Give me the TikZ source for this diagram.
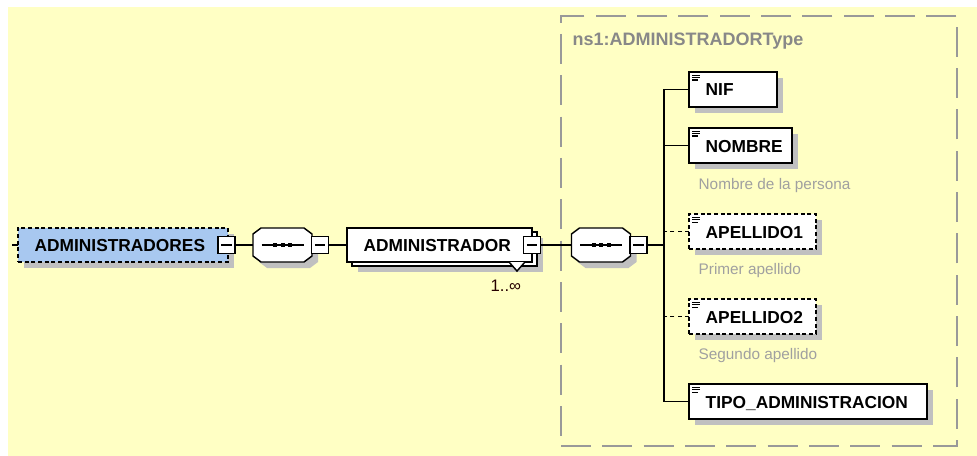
\documentclass[tikz,border=0pt]{standalone}
\usepackage{fontspec}
\setmainfont{Liberation Sans}
\usetikzlibrary{calc}
\definecolor{bgyellow}{HTML}{FFFFC4}
\definecolor{elblue}{HTML}{A8C8F0}
\definecolor{shadowgray}{HTML}{C0C0C0}
\definecolor{typegray}{HTML}{999999}
\definecolor{titlegray}{HTML}{888888}
\definecolor{docgray}{HTML}{A0A0A0}

\newcommand{\xelem}[7]{%
  \fill[shadowgray] ({#2+6},{#3+6}) rectangle ({#4+6},{#5+6});
  \node[#7, minimum width={(#4-#2)*0.75pt}, minimum height={(#5-#3)*0.75pt}] (#1) at ({(#2+#4)/2},{(#3+#5)/2}) {};
  \node[boxtext] (#1-t) at ({#2+16},{(#3+#5)/2+6.5}) {#6};
}
\newcommand{\xicon}[2]{%
  \draw[line width=0.9pt] ({#1+3},{#2+3.5}) -- ++(8,0) ({#1+3},{#2+5.8}) -- ++(8,0) ({#1+3},{#2+8.1}) -- ++(6,0);
}
\newcommand{\xminus}[3]{%
  \node[minusbox] (#1) at (#2,#3) {};
  \draw[line width=0.8pt] ([xshift=2.5pt]#1.west) -- ([xshift=-2.5pt]#1.east);
}
\newcommand{\xoct}[3]{%
  ({#1-21.5+#3},{#2-17+#3}) -- ({#1+21.5+#3},{#2-17+#3}) -- ({#1+29.5+#3},{#2-11+#3}) -- ({#1+29.5+#3},{#2+11+#3}) -- ({#1+21.5+#3},{#2+17+#3}) -- ({#1-21.5+#3},{#2+17+#3}) -- ({#1-29.5+#3},{#2+11+#3}) -- ({#1-29.5+#3},{#2-11+#3}) -- cycle
}
\newcommand{\xseq}[3]{%
  \fill[shadowgray] \xoct{#2}{#3}{6};
  \node[seqshape] (#1) at (#2,#3) {};
  \draw[fill=white, line width=1.1pt] \xoct{#2}{#3}{0};
  \draw[line width=1pt] ({#2-21},#3) -- ({#2+21},#3);
  \fill ({#2-9.5},{#3-2}) rectangle ++(4,4);
  \fill ({#2-2},{#3-2}) rectangle ++(4,4);
  \fill ({#2+5.5},{#3-2}) rectangle ++(4,4);
}

\begin{document}
\begin{tikzpicture}[x=0.75pt,y=-0.75pt, line width=1pt,
  elbox/.style={draw=black, fill=white, line width=1.1pt, inner sep=0pt, outer sep=0pt, rectangle},
  optbox/.style={elbox, dash pattern=on 3pt off 2pt},
  rootbox/.style={elbox, fill=elblue, dash pattern=on 3pt off 2pt},
  boxtext/.style={anchor=base west, inner sep=0pt, font=\bfseries\fontsize{13pt}{15pt}\selectfont, text=black},
  doctext/.style={anchor=base west, inner sep=0pt, font=\fontsize{11.5pt}{13pt}\selectfont, text=docgray},
  minusbox/.style={draw=black, fill=white, line width=1.1pt, minimum size=12.75pt, inner sep=0pt, outer sep=0pt},
  seqshape/.style={minimum width=44.25pt, minimum height=25.5pt, inner sep=0pt, outer sep=0pt},
  typebox/.style={draw=typegray, line width=1.3pt, dash pattern=on 22.5pt off 8.5pt, inner sep=0pt, outer sep=0pt},
  optline/.style={dash pattern=on 3pt off 2.5pt}
]
\useasboundingbox (0,0) rectangle (977,456);
\fill[bgyellow] (8,7) rectangle (977,456);

% complex type frame
\node[typebox, minimum width={396*0.75pt}, minimum height={430*0.75pt}] (ctype) at (759,231) {};
\node[anchor=base west, inner sep=0pt, font=\bfseries\fontsize{13.5pt}{15pt}\selectfont, text=titlegray] (ctitle) at (572,46) {ns1:ADMINISTRADORType};

% root element
\xelem{admins}{18}{228}{228}{262}{ADMINISTRADORES}{rootbox}
\xminus{m1}{226.5}{245}
\coordinate (stub) at (12,245);
\draw (stub) -- (admins.west);

% first sequence
\xseq{seq1}{282.5}{245}
\xminus{m2}{320}{245}
\draw (m1.east) -- (seq1.west);

% ADMINISTRADOR (repeated element)
\fill[shadowgray] (358,238) rectangle (543,272);
\node[elbox, minimum width={185*0.75pt}, minimum height={34*0.75pt}] (adminback) at (444.5,249) {};
\node[elbox, minimum width={185*0.75pt}, minimum height={34*0.75pt}] (admin) at (439.5,245) {};
\node[boxtext] (admin-t) at (363,251.5) {ADMINISTRADOR};
\draw[fill=white, line width=1.1pt] (509,262) -- (517,271) -- (525,262);
\xminus{m3}{532}{245}
\node[anchor=base west, inner sep=0pt, font=\fontsize{12.5pt}{14pt}\selectfont, text=black!85!red] (mult) at (490,291) {1..∞};
\draw (m2.east) -- (admin.west);

% second sequence
\xseq{seq2}{601}{245}
\xminus{m4}{638.5}{245}
\draw (m3.east) -- (seq2.west);

% children
\xelem{nif}{689}{72}{777}{107}{NIF}{elbox}
\xicon{689}{72}
\xelem{nombre}{689}{128}{792}{163}{NOMBRE}{elbox}
\xicon{689}{128}
\node[doctext] (nombre-d) at (698,189) {Nombre de la persona};
\xelem{ap1}{689}{214}{816}{249}{APELLIDO1}{optbox}
\xicon{689}{214}
\node[doctext] (ap1-d) at (698,274) {Primer apellido};
\xelem{ap2}{689}{299}{816}{334}{APELLIDO2}{optbox}
\xicon{689}{299}
\node[doctext] (ap2-d) at (698,359) {Segundo apellido};
\xelem{tipo}{689}{384}{927}{419}{TIPO\_ADMINISTRACION}{elbox}
\xicon{689}{384}

% connectors to children
\coordinate (jn) at (664,245);
\draw (m4.east) -- (jn);
\draw (nif.west) -| (jn);
\draw (tipo.west) -| (jn);
\draw (nombre.west) -- (nombre.west -| jn);
\draw[optline] (ap1.west) -- (ap1.west -| jn);
\draw[optline] (ap2.west) -- (ap2.west -| jn);
\end{tikzpicture}
\end{document}
